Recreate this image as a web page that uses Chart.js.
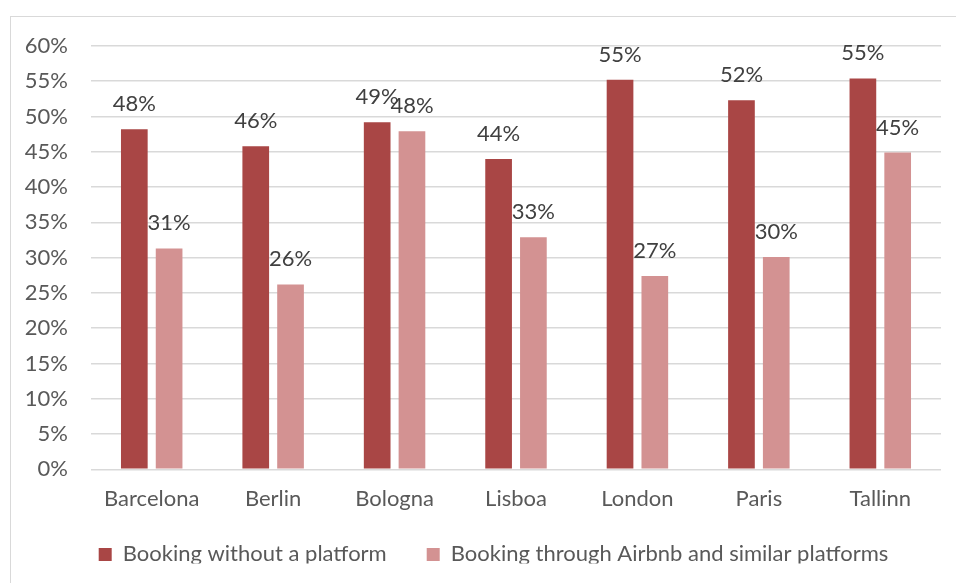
<!DOCTYPE html>
<html>
<head>
<meta charset="utf-8">
<script src="https://cdn.jsdelivr.net/npm/chart.js@4/dist/chart.umd.min.js"></script>
<style>
  html, body { margin: 0; padding: 0; background: #ffffff; overflow: hidden; }
  #wrap { position: relative; width: 956px; height: 583px; }
  #frame { position: absolute; left: 10px; top: 16px; width: 1000px; height: 1000px;
           border: 1px solid #d9d9d9; box-sizing: border-box; }
  #chart { position: absolute; left: 0; top: 0; }
</style>
</head>
<body>
<div id="wrap">
  <div id="frame"></div>
  <canvas id="chart" width="956" height="583"></canvas>
</div>
<script>
// Cities surveyed
const cities = ['Barcelona', 'Berlin', 'Bologna', 'Lisboa', 'London', 'Paris', 'Tallinn'];

// Share of respondents (%) per booking channel
const withoutPlatform = [48.2, 45.8, 49.2, 44.0, 55.2, 52.3, 55.4];
const throughAirbnb   = [31.3, 26.2, 47.9, 32.9, 27.4, 30.1, 44.9];

const seriesNames = ['Booking without a platform', 'Booking through Airbnb and similar platforms'];

// Y axis ticks: 0% … 60% in steps of 5
const yTicks = [0, 5, 10, 15, 20, 25, 30, 35, 40, 45, 50, 55, 60];

const FONT = 'Lato, "Open Sans", "DejaVu Sans", sans-serif';
const FS = 22;

// Value labels above each bar (rounded percentage of the bar's own value)
const valueLabels = {
  id: 'valueLabels',
  afterDatasetsDraw(chart) {
    const ctx = chart.ctx;
    ctx.save();
    ctx.font = FS + 'px ' + FONT;
    ctx.fillStyle = '#404040';
    ctx.textAlign = 'center';
    ctx.textBaseline = 'alphabetic';
    chart.data.datasets.forEach((ds, di) => {
      const meta = chart.getDatasetMeta(di);
      meta.data.forEach((bar, i) => {
        ctx.fillText(Math.round(ds.data[i]) + '%', bar.x, bar.y - 18);
      });
    });
    ctx.restore();
  }
};

// Place the bottom legend centred under the plot and a little higher
const legendShift = {
  id: 'legendShift',
  afterLayout(chart) {
    const lg = chart.legend;
    if (lg) {
      lg.left += 23; lg.right += 23;
      lg.top -= 19.6; lg.bottom -= 19.6;
    }
  }
};

new Chart(document.getElementById('chart'), {
  type: 'bar',
  data: {
    labels: cities,
    datasets: [
      { label: seriesNames[0], data: withoutPlatform, backgroundColor: '#a94645' },
      { label: seriesNames[1], data: throughAirbnb,   backgroundColor: '#d39292' }
    ]
  },
  options: {
    responsive: false,
    animation: false,
    events: [],
    datasets: { bar: { categoryPercentage: 0.573, barPercentage: 0.767 } },
    layout: { padding: { left: 0, right: 15, top: 46, bottom: 0 } },
    scales: {
      x: {
        afterFit(scale) { scale.height = 53.7; },
        grid: { display: false, drawTicks: false },
        border: { display: false },
        ticks: { color: '#595959', font: { family: FONT, size: FS, lineHeight: 1 }, padding: 19 }
      },
      y: {
        min: 0, max: 60,
        afterFit(scale) { scale.width = 91; },
        afterBuildTicks(scale) { scale.ticks = yTicks.map(v => ({ value: v })); },
        grid: { color: '#d9d9d9', lineWidth: 1.6, drawTicks: false },
        border: { display: false },
        ticks: {
          color: '#595959', font: { family: FONT, size: FS }, padding: 23,
          callback: v => v + '%'
        }
      }
    },
    plugins: {
      legend: {
        position: 'bottom',
        maxHeight: 60,
        labels: {
          color: '#595959', font: { family: FONT, size: FS },
          boxWidth: 13, boxHeight: 13, padding: 40
        }
      },
      tooltip: { enabled: false }
    }
  },
  plugins: [valueLabels, legendShift]
});
</script>
</body>
</html>
